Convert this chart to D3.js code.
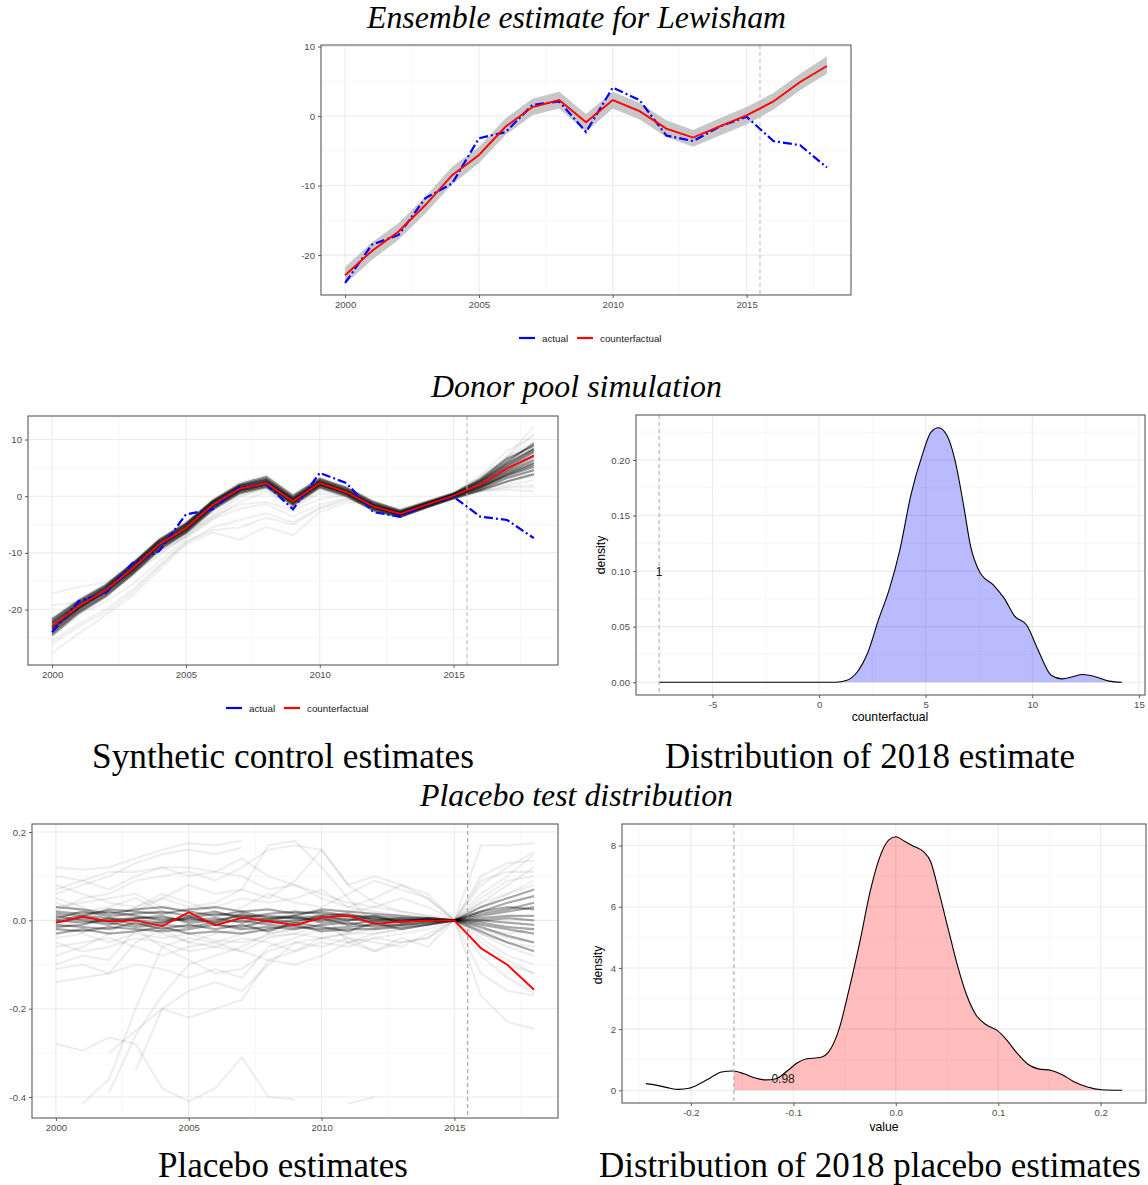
<!DOCTYPE html>
<html>
<head>
<meta charset="utf-8">
<script src="https://cdn.jsdelivr.net/npm/d3@7"></script>
<style>
  body { margin: 0; background: #fff; }
  svg { display: block; }
  .tick text { font-family: "Liberation Sans", Arial, sans-serif; font-size: 9.6px; fill: #4d4d4d; }
  .tick line { stroke: #333; stroke-width: 0.8; }
</style>
</head>
<body>
<svg id="fig" width="1148" height="1185"></svg>
<script>
// ---- data ----
var years = [2000, 2001, 2002, 2003, 2004, 2005, 2006, 2007, 2008, 2009,
             2010, 2011, 2012, 2013, 2014, 2015, 2016, 2017, 2018];
var treatYear = 2015.5;

var actual = [-24.0, -18.5, -17.1, -11.8, -9.7, -3.2, -2.3, 1.6, 2.1, -2.3,
              4.1, 2.3, -2.8, -3.6, -1.5, -0.1, -3.6, -4.2, -7.4];
var counterfactual = [-22.9, -19.4, -16.6, -12.8, -8.5, -5.6, -1.5, 1.3, 2.3, -0.9,
                      2.3, 0.7, -1.8, -3.1, -1.5, 0.1, 2.1, 4.9, 7.2];
var cfLower = [-24.2, -20.7, -17.8, -14.0, -9.8, -6.8, -2.7, 0.1, 1.1, -2.3,
               1.1, -0.5, -3.0, -4.4, -2.8, -1.2, 0.9, 3.7, 6.1];
var cfUpper = [-21.7, -18.2, -15.4, -11.6, -7.3, -4.4, -0.3, 2.5, 3.5, 0.3,
               3.5, 1.9, -0.6, -2.0, -0.3, 1.3, 3.3, 6.1, 8.6];

// donor pool simulation: dense runs and faint outlying runs
var donorCore = [
  [-23.5, -19.8, -16.9, -13.2, -8.9, -6.0, -1.9, 1.0, 2.0, -1.2, 2.0, 0.4, -2.1, -3.4, -1.8, -0.2, 1.5, 3.8, 5.6],
  [-22.4, -19.0, -16.2, -12.3, -8.1, -5.2, -1.1, 1.7, 2.8, -0.5, 2.6, 1.0, -1.5, -2.9, -1.3, 0.3, 2.5, 5.5, 8.2],
  [-24.1, -20.3, -17.4, -13.6, -9.3, -6.3, -2.2, 0.7, 1.8, -1.4, 1.7, 0.2, -2.3, -3.6, -1.9, -0.3, 1.2, 3.2, 4.6],
  [-22.0, -18.6, -15.9, -12.0, -7.8, -4.9, -0.9, 1.9, 3.1, -0.2, 2.9, 1.3, -1.2, -2.7, -1.1, 0.4, 2.8, 6.1, 9.3],
  [-23.2, -19.6, -16.7, -12.9, -8.6, -5.8, -1.7, 1.2, 2.5, -0.7, 2.4, 0.8, -1.7, -3.0, -1.4, 0.2, 1.9, 4.3, 6.4],
  [-23.8, -20.0, -17.1, -13.3, -9.0, -6.1, -2.0, 0.9, 2.1, -1.0, 2.1, 0.5, -2.0, -3.3, -1.7, -0.1, 1.7, 4.0, 5.9],
  [-22.6, -19.2, -16.4, -12.5, -8.3, -5.4, -1.3, 1.5, 2.6, -0.6, 2.5, 0.9, -1.6, -3.0, -1.4, 0.2, 2.3, 5.2, 7.8],
  [-24.5, -20.6, -17.7, -13.8, -9.5, -6.5, -2.4, 0.5, 1.6, -1.6, 1.5, 0.0, -2.5, -3.7, -2.0, -0.4, 1.0, 2.6, 3.9],
  [-21.7, -18.4, -15.7, -11.9, -7.7, -4.8, -0.8, 2.1, 3.4, 0.1, 3.1, 1.5, -1.0, -2.5, -1.0, 0.5, 3.0, 6.6, 8.9],
  [-23.0, -19.5, -16.6, -12.7, -8.4, -5.5, -1.4, 1.4, 2.4, -0.8, 2.2, 0.6, -1.9, -3.2, -1.6, 0.0, 2.0, 4.6, 7.0],
  [-23.4, -19.7, -16.8, -13.0, -8.7, -5.7, -1.6, 1.1, 2.2, -1.1, 2.0, 0.6, -1.9, -3.2, -1.6, 0.1, 1.6, 3.6, 5.2],
  [-22.2, -18.9, -16.1, -12.2, -8.0, -5.1, -1.0, 1.8, 2.9, -0.3, 2.7, 1.1, -1.4, -2.8, -1.2, 0.3, 2.6, 5.8, 8.4]
];
var donorFaint = [
  [-17.1, -16.0, -15.2, -13.5, -10.5, -7.0, -3.5, -0.2, 1.5, -0.8, 1.8, 0.6, -1.6, -3.0, -1.5, 0.0, 1.4, 2.6, 3.5],
  [-19.2, -18.8, -16.5, -13.0, -9.8, -7.2, -4.0, -1.0, 0.8, -1.8, 1.0, 0.2, -2.0, -3.3, -1.8, -0.3, 0.9, 1.7, 2.0],
  [-27.7, -24.2, -21.0, -17.6, -13.0, -8.5, -6.4, -7.7, -5.4, -6.9, -2.8, -1.2, -1.0, -2.6, -1.4, 0.2, 1.0, 1.1, 0.9],
  [-25.5, -22.5, -20.0, -16.5, -12.2, -8.0, -6.0, -5.5, -3.8, -5.0, -2.2, -0.8, -1.5, -2.9, -1.6, 0.0, 1.2, 2.0, 2.8],
  [-24.8, -21.0, -18.6, -15.6, -11.5, -7.5, -4.0, -2.2, -1.4, -3.6, -1.5, -0.3, -1.8, -3.1, -1.5, 0.4, 2.8, 7.0, 12.3],
  [-23.0, -19.0, -16.0, -12.5, -8.8, -6.5, -3.6, -1.5, -1.0, -2.5, -0.5, 0.2, -1.5, -2.9, -1.3, 0.6, 3.2, 6.9, 11.0],
  [-21.5, -18.0, -15.5, -11.8, -7.5, -4.5, -0.6, 2.4, 3.7, 0.3, 3.3, 1.7, -0.8, -2.4, -0.9, 0.7, 3.4, 6.8, 9.8],
  [-22.8, -19.5, -16.8, -13.0, -8.8, -5.9, -1.8, 1.0, 2.0, -1.3, 1.8, 0.4, -2.2, -3.5, -1.9, -0.5, 0.8, 1.5, 1.6],
  [-26.0, -23.0, -20.5, -17.0, -12.5, -8.2, -5.5, -4.2, -3.0, -4.6, -2.0, -0.5, -1.2, -2.7, -1.5, 0.3, 2.2, 5.0, 7.9],
  [-24.0, -20.5, -17.5, -14.0, -10.0, -7.0, -3.0, 0.2, 1.2, -2.0, 0.5, 0.0, -2.4, -3.6, -1.7, 0.5, 3.6, 8.0, 10.6]
];

// placebo runs (gaps = missing years)
var placeboRed = [-0.005, 0.008, -0.002, 0.0, -0.013, 0.018, -0.011, 0.006, -0.002, -0.011,
                  0.006, 0.011, -0.008, -0.003, -0.001, 0.0, -0.063, -0.101, -0.157];
var placeboCore = [
  [0.01, 0.0, -0.01, 0.005, 0.01, -0.005, 0.0, 0.01, -0.005, 0.0, 0.005, -0.01, 0.0, 0.005, 0.0, 0, 0.01, 0.02, 0.03],
  [-0.015, -0.01, 0.005, -0.01, -0.005, 0.01, -0.01, -0.015, 0.0, 0.01, -0.005, 0.0, 0.01, -0.005, 0.005, 0, -0.01, -0.02, -0.03],
  [0.02, 0.015, 0.02, 0.01, 0.0, 0.005, 0.015, 0.01, 0.01, 0.005, 0.01, 0.015, 0.0, -0.005, 0.0, 0, 0.02, 0.04, 0.055],
  [-0.02, -0.025, -0.015, -0.02, -0.025, -0.02, -0.01, -0.02, -0.015, -0.02, -0.01, -0.005, -0.015, -0.01, -0.005, 0, -0.015, -0.035, -0.05],
  [0.005, 0.02, 0.01, 0.015, 0.02, 0.01, 0.02, 0.005, 0.015, 0.02, 0.015, 0.01, 0.005, 0.0, 0.002, 0, 0.005, 0.01, 0.01],
  [-0.005, 0.005, -0.005, -0.015, -0.01, -0.015, -0.005, 0.0, -0.01, -0.015, -0.02, -0.015, -0.01, -0.01, -0.005, 0, 0.0, -0.005, -0.01],
  [0.03, 0.025, 0.015, 0.025, 0.03, 0.02, 0.01, 0.02, 0.025, 0.015, 0.02, 0.01, 0.01, 0.005, 0.005, 0, 0.03, 0.05, 0.07],
  [-0.03, -0.02, -0.03, -0.025, -0.015, -0.03, -0.025, -0.03, -0.02, -0.01, -0.025, -0.02, -0.02, -0.015, -0.01, 0, -0.025, -0.05, -0.07],
  [0.0, -0.005, 0.0, 0.005, 0.005, 0.0, 0.005, -0.005, 0.005, 0.005, 0.0, 0.005, -0.005, 0.0, 0.0, 0, 0.015, 0.025, 0.04],
  [0.015, 0.01, 0.025, 0.02, 0.015, 0.025, 0.03, 0.02, 0.005, 0.01, 0.025, 0.02, 0.015, 0.01, 0.005, 0, 0.0, 0.005, 0.0],
  [-0.01, -0.015, -0.02, -0.005, -0.02, -0.01, -0.02, -0.01, -0.025, -0.005, -0.015, -0.025, -0.005, -0.02, -0.01, 0, -0.005, -0.015, -0.02],
  [0.0, 0.01, 0.005, 0.0, -0.005, 0.005, -0.005, 0.015, 0.0, -0.005, 0.01, 0.0, 0.005, 0.0, 0.003, 0, 0.02, 0.03, 0.025]
];
var placeboFaint = [
  [0.12, 0.115, 0.12, 0.14, 0.16, 0.175, 0.17, 0.18, null, null, null, null, null, null, null, null, null, null, null],
  [0.06, 0.08, 0.10, 0.13, 0.15, 0.16, 0.15, 0.165, null, null, null, null, null, null, null, null, null, null, null],
  [0.10, 0.09, 0.07, 0.10, 0.12, 0.10, 0.11, 0.14, 0.10, 0.08, 0.05, 0.03, 0.02, 0.01, 0.005, 0, 0.04, 0.08, 0.12],
  [-0.08, -0.06, -0.03, 0.02, 0.05, 0.08, 0.06, 0.07, 0.17, 0.18, 0.12, 0.05, -0.01, -0.02, -0.01, 0, 0.05, 0.09, 0.10],
  [0.02, 0.05, 0.06, 0.09, 0.10, 0.11, 0.09, 0.12, 0.16, 0.17, 0.16, 0.08, 0.04, 0.02, 0.01, 0, 0.17, 0.17, 0.175],
  [-0.28, -0.295, -0.265, -0.28, -0.38, -0.41, -0.38, -0.31, -0.4, -0.405, null, null, null, null, null, null, null, null, null],
  [null, null, -0.39, -0.26, -0.17, -0.1, -0.08, -0.06, -0.03, -0.02, 0.0, 0.01, 0.0, 0.005, 0.0, 0, -0.03, -0.06, -0.08],
  [null, -0.415, -0.36, -0.2, -0.06, -0.04, -0.05, -0.03, -0.01, 0.0, 0.01, -0.01, 0.0, 0.0, 0.0, 0, -0.05, -0.09, -0.12],
  [null, null, null, -0.34, -0.2, -0.16, -0.14, -0.16, -0.1, -0.05, -0.04, -0.03, -0.02, -0.01, 0.0, 0, -0.12, -0.16, -0.17],
  [null, null, -0.30, -0.25, -0.2, -0.22, -0.2, -0.18, -0.09, -0.07, -0.04, -0.03, -0.03, -0.02, -0.01, 0, -0.17, -0.23, -0.245],
  [-0.14, -0.13, -0.12, -0.1, -0.11, -0.13, -0.11, -0.13, -0.06, -0.04, -0.02, -0.01, -0.02, -0.01, -0.005, 0, -0.04, -0.08, -0.1],
  [-0.11, -0.10, -0.12, -0.05, -0.02, -0.05, -0.06, -0.07, -0.04, -0.03, -0.01, -0.04, -0.07, -0.05, -0.04, 0, -0.03, -0.05, -0.06],
  [-0.06, -0.05, -0.04, -0.06, -0.08, -0.06, -0.05, -0.07, -0.09, -0.1, -0.08, -0.05, -0.03, -0.02, -0.01, 0, 0.03, 0.06, 0.09],
  [0.08, 0.06, 0.04, 0.03, 0.05, 0.03, 0.04, 0.07, 0.05, 0.09, 0.16, 0.08, 0.1, 0.08, 0.05, 0, 0.06, 0.1, 0.15],
  [null, null, null, null, null, null, null, null, null, null, null, -0.415, -0.40, null, null, null, null, null, null],
  [0.05, 0.03, 0.0, 0.03, 0.06, 0.04, 0.02, 0.0, -0.03, -0.02, 0.02, -0.05, -0.07, -0.04, -0.06, 0, 0.08, 0.12, 0.155],
  [-0.04, -0.03, -0.05, -0.03, -0.04, -0.03, -0.045, -0.05, -0.035, -0.03, -0.04, -0.05, -0.04, -0.03, -0.02, 0, -0.08, -0.13, -0.165],
  [0.07, 0.09, 0.11, 0.11, 0.12, 0.12, 0.11, 0.1, 0.07, 0.08, 0.06, 0.04, 0.03, 0.05, 0.03, 0, 0.1, 0.13, 0.135],
  [-0.1, -0.08, -0.09, -0.02, -0.06, -0.09, -0.12, -0.11, -0.07, -0.05, -0.06, -0.04, -0.05, -0.06, -0.03, 0, -0.02, -0.04, -0.05],
  [0.03, 0.04, 0.05, 0.06, 0.03, 0.02, 0.03, 0.05, 0.04, 0.05, 0.07, 0.03, 0.05, 0.08, 0.06, 0, 0.04, 0.06, 0.08],
  [-0.02, 0.0, 0.02, 0.0, -0.03, -0.05, -0.03, -0.02, 0.0, 0.02, 0.0, 0.02, 0.03, 0.02, 0.01, 0, -0.06, -0.1, -0.12],
  [0.04, 0.02, 0.03, 0.05, 0.02, -0.01, 0.0, 0.03, 0.06, 0.04, 0.03, 0.06, 0.09, 0.07, 0.05, 0, 0.09, 0.11, 0.11],
  [-0.05, -0.07, -0.06, -0.04, -0.05, -0.07, -0.06, -0.04, -0.05, -0.07, -0.05, -0.06, -0.04, -0.05, -0.04, 0, -0.02, -0.03, -0.02]
];

// distribution of 2018 estimate (density curve points)
var cfDensX = [-7.5, 0.8, 1.27, 1.78, 2.29, 2.8, 3.3, 3.8, 4.3, 4.83, 5.25, 5.6, 6.0, 6.36, 6.78, 7.1,
               7.54, 8.2, 8.7, 9.15, 9.75, 10.25, 10.9, 11.4, 11.9, 12.35, 12.95, 13.6, 14.2];
var cfDensY = [0, 0, 0.0015, 0.009, 0.027, 0.057, 0.084, 0.12, 0.168, 0.204, 0.225, 0.229, 0.222, 0.201, 0.159, 0.123,
               0.099, 0.087, 0.075, 0.06, 0.051, 0.030, 0.006, 0.003, 0.005, 0.007, 0.005, 0.001, 0];
var cfActual2018 = -7.5;
var cfLabel = "1";

// distribution of 2018 placebo estimates
var plDensX = [-0.244, -0.234, -0.223, -0.212, -0.202, -0.191, -0.18, -0.17, -0.159, -0.148, -0.138, -0.127,
               -0.117, -0.106, -0.096, -0.087, -0.074, -0.065, -0.055, -0.046, -0.035, -0.025, -0.016, -0.007,
               0.0, 0.009, 0.018, 0.027, 0.034, 0.042, 0.051, 0.06, 0.069, 0.078, 0.088, 0.099, 0.108, 0.118,
               0.129, 0.139, 0.152, 0.162, 0.173, 0.187, 0.201, 0.221];
var plDensY = [0.22, 0.17, 0.087, 0.03, 0.065, 0.22, 0.43, 0.6, 0.63, 0.54, 0.41, 0.34,
               0.38, 0.63, 0.9, 1.03, 1.07, 1.28, 2.04, 3.24, 4.87, 6.5, 7.59, 8.18,
               8.29, 8.13, 7.97, 7.8, 7.48, 6.5, 5.3, 4.11, 3.13, 2.48, 2.15, 1.96, 1.66, 1.23,
               0.85, 0.7, 0.65, 0.52, 0.3, 0.11, 0.02, 0.0];
var plActual2018 = -0.158;
var plLabel = "0.98";

// ---- drawing ----
var svg = d3.select("#fig");
var SANS = '"Liberation Sans", Arial, sans-serif';
var SERIF = '"Liberation Serif", "Times New Roman", serif';
var minus = function(s) { return s.replace("\u2212", "-"); };

function panel(box, xDom, yDom, xTicks, yTicks, xMinor, yMinor, xFmt, yFmt) {
  var x = d3.scaleLinear().domain(xDom).range([box.x0, box.x1]);
  var y = d3.scaleLinear().domain(yDom).range([box.y1, box.y0]);
  var g = svg.append("g");

  g.append("rect").attr("x", box.x0).attr("y", box.y0)
    .attr("width", box.x1 - box.x0).attr("height", box.y1 - box.y0).attr("fill", "#fff");

  var grid = g.append("g");
  grid.selectAll(".vmin").data(xMinor).enter().append("line")
    .attr("x1", x).attr("x2", x).attr("y1", box.y0).attr("y2", box.y1)
    .attr("stroke", "#f4f4f4").attr("stroke-width", 0.7);
  grid.selectAll(".hmin").data(yMinor).enter().append("line")
    .attr("y1", y).attr("y2", y).attr("x1", box.x0).attr("x2", box.x1)
    .attr("stroke", "#f4f4f4").attr("stroke-width", 0.7);
  grid.selectAll(".vmaj").data(xTicks).enter().append("line")
    .attr("x1", x).attr("x2", x).attr("y1", box.y0).attr("y2", box.y1)
    .attr("stroke", "#ebebeb").attr("stroke-width", 1.1);
  grid.selectAll(".hmaj").data(yTicks).enter().append("line")
    .attr("y1", y).attr("y2", y).attr("x1", box.x0).attr("x2", box.x1)
    .attr("stroke", "#ebebeb").attr("stroke-width", 1.1);

  var plot = g.append("g");

  var xa = g.append("g").attr("transform", "translate(0," + box.y1 + ")")
    .call(d3.axisBottom(x).tickValues(xTicks).tickSize(3).tickPadding(3)
      .tickFormat(function(d) { return minus(xFmt(d)); }));
  xa.select(".domain").remove();
  var ya = g.append("g").attr("transform", "translate(" + box.x0 + ",0)")
    .call(d3.axisLeft(y).tickValues(yTicks).tickSize(3).tickPadding(3)
      .tickFormat(function(d) { return minus(yFmt(d)); }));
  ya.select(".domain").remove();
  g.selectAll(".tick text").attr("font-family", null).attr("font-size", null);

  var top = g.append("g");
  top.append("rect").attr("x", box.x0).attr("y", box.y0)
    .attr("width", box.x1 - box.x0).attr("height", box.y1 - box.y0)
    .attr("fill", "none").attr("stroke", "#5a5a5a").attr("stroke-width", 1.1);

  return { g: plot, x: x, y: y, box: box };
}

function vdash(p, v, color, width) {
  p.g.append("line")
    .attr("x1", p.x(v)).attr("x2", p.x(v)).attr("y1", p.box.y0).attr("y2", p.box.y1)
    .attr("stroke", color).attr("stroke-width", width).attr("stroke-dasharray", "4,3");
}

function seriesLine(p, vals) {
  return d3.line()
    .defined(function(d) { return d != null; })
    .x(function(d, i) { return p.x(years[i]); })
    .y(function(d) { return p.y(d); })(vals);
}

function legend(cx, cy) {
  var g = svg.append("g").attr("font-family", SANS).attr("font-size", "9.8px").attr("fill", "#1a1a1a");
  var x0 = cx - 71;
  g.append("line").attr("x1", x0).attr("x2", x0 + 16).attr("y1", cy).attr("y2", cy)
    .attr("stroke", "#0000ff").attr("stroke-width", 2.2);
  g.append("text").attr("x", x0 + 23).attr("y", cy + 3.5).text("actual");
  g.append("line").attr("x1", x0 + 58).attr("x2", x0 + 74).attr("y1", cy).attr("y2", cy)
    .attr("stroke", "#ff0000").attr("stroke-width", 2.2);
  g.append("text").attr("x", x0 + 81).attr("y", cy + 3.5).text("counterfactual");
}

function title(txt, cx, baseline, width, italic) {
  var t = svg.append("text").attr("x", cx).attr("y", baseline)
    .attr("text-anchor", "middle").attr("font-family", SERIF)
    .attr("font-style", italic ? "italic" : "normal")
    .attr("font-size", "30px").attr("fill", "#000").text(txt);
  var w = t.node().getComputedTextLength();
  t.attr("font-size", (30 * width / w).toFixed(2) + "px");
}

function axisTitle(txt, x, y, rotate) {
  svg.append("text").attr("x", x).attr("y", y)
    .attr("transform", rotate ? "rotate(-90," + x + "," + y + ")" : null)
    .attr("text-anchor", "middle").attr("font-family", SANS).attr("font-size", "12.2px")
    .attr("fill", "#000").text(txt);
}

var intFmt = d3.format("d");
var yearMinor = [2002.5, 2007.5, 2012.5, 2017.5];

// ---- top: ensemble estimate ----
(function() {
  var p = panel({ x0: 321, x1: 851, y0: 45, y1: 295 }, [1999.1, 2018.9], [-25.74, 10.22],
    [2000, 2005, 2010, 2015], [-20, -10, 0, 10], yearMinor, [-25, -15, -5, 5], intFmt, intFmt);
  var area = d3.area()
    .x(function(d, i) { return p.x(years[i]); })
    .y0(function(d, i) { return p.y(cfLower[i]); })
    .y1(function(d, i) { return p.y(cfUpper[i]); });
  p.g.append("path").attr("d", area(counterfactual)).attr("fill", "#bdbdbd").attr("fill-opacity", 0.85);
  vdash(p, treatYear, "#bcbcbc", 1.1);
  p.g.append("path").attr("d", seriesLine(p, actual)).attr("fill", "none")
    .attr("stroke", "#0000ff").attr("stroke-width", 2.2).attr("stroke-dasharray", "9,3,2,3");
  p.g.append("path").attr("d", seriesLine(p, counterfactual)).attr("fill", "none")
    .attr("stroke", "#ff0000").attr("stroke-width", 1.9);
  legend(590, 338);
})();

// ---- middle left: donor pool simulation ----
(function() {
  var p = panel({ x0: 28, x1: 558, y0: 416, y1: 665 }, [1999.1, 2018.9], [-29.78, 14.15],
    [2000, 2005, 2010, 2015], [-20, -10, 0, 10], yearMinor, [-25, -15, -5, 5], intFmt, intFmt);
  donorFaint.forEach(function(s) {
    p.g.append("path").attr("d", seriesLine(p, s)).attr("fill", "none")
      .attr("stroke", "#000").attr("stroke-opacity", 0.06).attr("stroke-width", 2.2);
  });
  donorCore.forEach(function(s) {
    p.g.append("path").attr("d", seriesLine(p, s)).attr("fill", "none")
      .attr("stroke", "#000").attr("stroke-opacity", 0.42).attr("stroke-width", 2.2);
  });
  vdash(p, treatYear, "#bcbcbc", 1.1);
  p.g.append("path").attr("d", seriesLine(p, actual)).attr("fill", "none")
    .attr("stroke", "#0000ff").attr("stroke-width", 2.2).attr("stroke-dasharray", "9,3,2,3");
  p.g.append("path").attr("d", seriesLine(p, counterfactual)).attr("fill", "none")
    .attr("stroke", "#ff0000").attr("stroke-width", 1.9);
  legend(297, 708);
})();

// ---- middle right: distribution of 2018 estimate ----
(function() {
  var p = panel({ x0: 636, x1: 1145, y0: 415, y1: 695 }, [-8.585, 15.285], [-0.0115, 0.2405],
    [-5, 0, 5, 10, 15], [0, 0.05, 0.1, 0.15, 0.2], [-7.5, -2.5, 2.5, 7.5, 12.5],
    [0.025, 0.075, 0.125, 0.175, 0.225], intFmt, d3.format(".2f"));
  var pts = cfDensX.map(function(v, i) { return [v, cfDensY[i]]; });
  var area = d3.area().curve(d3.curveMonotoneX)
    .x(function(d) { return p.x(d[0]); }).y0(p.y(0)).y1(function(d) { return p.y(d[1]); });
  var line = d3.line().curve(d3.curveMonotoneX)
    .x(function(d) { return p.x(d[0]); }).y(function(d) { return p.y(d[1]); });
  p.g.append("path").attr("d", area(pts)).attr("fill", "#0000ff").attr("fill-opacity", 0.27);
  p.g.append("path").attr("d", line(pts)).attr("fill", "none").attr("stroke", "#000").attr("stroke-width", 1.1);
  vdash(p, cfActual2018, "#b0b0b0", 1.1);
  p.g.append("text").attr("x", p.x(cfActual2018)).attr("y", p.y(0.1) + 4.5)
    .attr("text-anchor", "middle").attr("font-family", SANS).attr("font-size", "12px")
    .attr("fill", "#1a1a1a").text(cfLabel);
  axisTitle("counterfactual", 890, 721, false);
  axisTitle("density", 605, 555, true);
})();

// ---- bottom left: placebo estimates ----
(function() {
  var p = panel({ x0: 32, x1: 558, y0: 824, y1: 1118 }, [1999.1, 2018.9], [-0.4475, 0.2182],
    [2000, 2005, 2010, 2015], [-0.4, -0.2, 0, 0.2], yearMinor, [-0.3, -0.1, 0.1],
    intFmt, d3.format(".1f"));
  placeboFaint.forEach(function(s) {
    p.g.append("path").attr("d", seriesLine(p, s)).attr("fill", "none")
      .attr("stroke", "#000").attr("stroke-opacity", 0.065).attr("stroke-width", 2.2);
  });
  placeboCore.forEach(function(s) {
    p.g.append("path").attr("d", seriesLine(p, s)).attr("fill", "none")
      .attr("stroke", "#000").attr("stroke-opacity", 0.34).attr("stroke-width", 2.2);
  });
  vdash(p, treatYear, "#8c8c8c", 0.9);
  p.g.append("path").attr("d", seriesLine(p, placeboRed)).attr("fill", "none")
    .attr("stroke", "#ff0000").attr("stroke-width", 1.9);
})();

// ---- bottom right: distribution of 2018 placebo estimates ----
(function() {
  var p = panel({ x0: 622, x1: 1146, y0: 824, y1: 1103 }, [-0.26725, 0.24425], [-0.4145, 8.7045],
    [-0.2, -0.1, 0, 0.1, 0.2], [0, 2, 4, 6, 8], [-0.25, -0.15, -0.05, 0.05, 0.15],
    [1, 3, 5, 7], d3.format(".1f"), intFmt);
  var pts = plDensX.map(function(v, i) { return [v, plDensY[i]]; });
  var area = d3.area().curve(d3.curveMonotoneX)
    .x(function(d) { return p.x(d[0]); }).y0(p.y(0)).y1(function(d) { return p.y(d[1]); });
  var line = d3.line().curve(d3.curveMonotoneX)
    .x(function(d) { return p.x(d[0]); }).y(function(d) { return p.y(d[1]); });
  svg.append("clipPath").attr("id", "plClip").append("rect")
    .attr("x", p.x(plActual2018)).attr("y", p.box.y0)
    .attr("width", p.box.x1 - p.x(plActual2018)).attr("height", p.box.y1 - p.box.y0);
  p.g.append("path").attr("d", area(pts)).attr("clip-path", "url(#plClip)")
    .attr("fill", "#ff0000").attr("fill-opacity", 0.26);
  p.g.append("path").attr("d", line(pts)).attr("fill", "none").attr("stroke", "#000").attr("stroke-width", 1.1);
  vdash(p, plActual2018, "#a0a0a0", 1.0);
  p.g.append("text").attr("x", p.x(-0.11)).attr("y", p.y(0.38) + 4.5)
    .attr("text-anchor", "middle").attr("font-family", SANS).attr("font-size", "12px")
    .attr("fill", "#1a1a1a").text(plLabel);
  axisTitle("value", 884, 1131, false);
  axisTitle("density", 602, 965, true);
})();

// ---- captions ----
title("Ensemble estimate for Lewisham", 576.5, 28, 419, true);
title("Donor pool simulation", 576.5, 397, 291, true);
title("Synthetic control estimates", 283, 768, 382, false);
title("Distribution of 2018 estimate", 870, 768, 410, false);
title("Placebo test distribution", 576.5, 806, 313, true);
title("Placebo estimates", 283, 1177, 250, false);
title("Distribution of 2018 placebo estimates", 870, 1177, 542, false);
</script>
</body>
</html>
